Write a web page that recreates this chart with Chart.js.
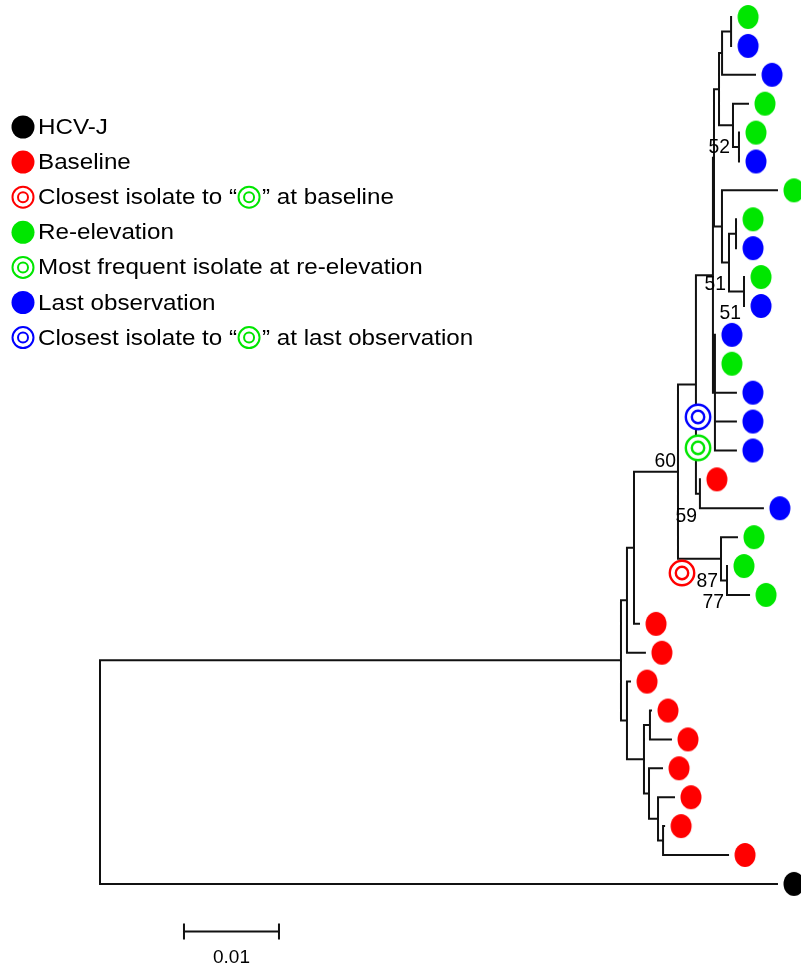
<!DOCTYPE html>
<html>
<head>
<meta charset="utf-8">
<script src="https://cdn.jsdelivr.net/npm/chart.js@4.4.1/dist/chart.umd.min.js"></script>
<style>
  html, body { margin: 0; padding: 0; background: #fff; }
  #wrap { width: 801px; height: 970px; }
</style>
</head>
<body>
<div id="wrap"><canvas id="tree" width="801" height="970"></canvas></div>
<script>
// tree (branch lengths in substitutions/site, internal labels = bootstrap)
const treeNewick =
  '(((((((((((E1:0,L1:0):0.00095,L2:0.00347):0.00032,(E2:0.00158,(E3:0,L3:0):0.00063)52:0.00147):0.00053,' +
  '(E4:0.00579,((E5:0,L4:0):0.00074,(E6:0,L5:0)51:0.00158)51:0.00074):0.00084):0.00011,' +
  '(L6:0,E7:0,L7:0.00221,L8:0.00221,L9:0.00221):0.00021):0.00179,' +
  '(B1:0,L10:0.00663)59:0.00042):0.00189,' +
  '(E8:0.00168,(E9:0,E10:0.00232)77:0.00063)87:0.00453)60:0.00463,' +
  'B2:0.00053):0.00074,B3:0.00189):0.00063,' +
  '(B4:0.00032,((B5:0.00011,B6:0.00221):0.00063,(B7:0.00137,(B8:0.00168,(B9:0.00011,B10:0.00684):0.00053):0.00095):0.00053):0.00179):0.00063):0.05484,' +
  'HCV-J:0.07126);';

const groupKeys = ['H', 'B', 'E', 'L'];
const groupNames = ['HCV-J', 'Baseline', 'Re-elevation', 'Last observation'];

// highlighted isolates (double rings) : group, distance, row
const ringGroups = ['L', 'E', 'B'];
const ringDist = [0.06295, 0.06295, 0.06126];
const ringRow = [13.84, 14.91, 19.24];

const legendLabels = [
  'HCV-J',
  'Baseline',
  'Closest isolate to “@” at baseline',
  'Re-elevation',
  'Most frequent isolate at re-elevation',
  'Last observation',
  'Closest isolate to “@” at last observation'
];
const legendGroups = ['H', 'B', 'B', 'E', 'E', 'L', 'L'];
const legendIsRing = [false, false, true, false, true, false, true];

const scaleBarLength = 0.01;

const colors = { H: '#000000', B: '#ff0000', E: '#00e600', L: '#0000ff' };

function parseNewick(s) {
  let i = 0;
  function node() {
    const n = { children: [], name: '', len: 0 };
    if (s[i] === '(') {
      i++;
      n.children.push(node());
      while (s[i] === ',') { i++; n.children.push(node()); }
      i++;
    }
    let name = '';
    while (i < s.length && !',():;'.includes(s[i])) name += s[i++];
    n.name = name;
    if (s[i] === ':') {
      i++;
      let num = '';
      while (i < s.length && !',();'.includes(s[i])) num += s[i++];
      n.len = parseFloat(num);
    }
    return n;
  }
  return node();
}

const root = parseNewick(treeNewick);
const leaves = [];
const inner = [];
let row = 0;
function layout(n, depth) {
  n.d = depth + n.len;
  if (!n.children.length) {
    n.y = row++;
    leaves.push(n);
  } else {
    n.children.forEach(c => layout(c, n.d));
    n.y = (n.children[0].y + n.children[n.children.length - 1].y) / 2;
    inner.push(n);
  }
}
root.len = 0;
layout(root, 0);

const segs = [];
function addSeg(x1, y1, x2, y2) {
  segs.push({ x: x1, y: y1 }, { x: x2, y: y2 }, { x: x2, y: null });
}
inner.forEach(n => {
  const first = n.children[0], last = n.children[n.children.length - 1];
  addSeg(n.d, first.y, n.d, last.y);
  n.children.forEach(c => addSeg(n.d, c.y, c.d, c.y));
});

function dotImage(color, rx, ry, offset) {
  const c = document.createElement('canvas');
  const half = Math.ceil(offset + rx + 2);
  c.width = half * 2;
  c.height = Math.ceil(ry * 2 + 4);
  const g = c.getContext('2d');
  g.fillStyle = color;
  g.beginPath();
  g.ellipse(half + offset, c.height / 2, rx, ry, 0, 0, Math.PI * 2);
  g.fill();
  return c;
}
function ringImage(color, r1, r2, lw) {
  const c = document.createElement('canvas');
  const s = Math.ceil(r1 + lw + 2) * 2;
  c.width = s; c.height = s;
  const g = c.getContext('2d');
  drawRing(g, s / 2, s / 2, color, r1, r2, lw);
  return c;
}
function drawRing(g, x, y, color, r1, r2, lw) {
  g.fillStyle = '#fff';
  g.beginPath(); g.arc(x, y, r1, 0, Math.PI * 2); g.fill();
  g.strokeStyle = color;
  g.lineWidth = lw;
  g.beginPath(); g.arc(x, y, r1, 0, Math.PI * 2); g.stroke();
  g.beginPath(); g.arc(x, y, r2, 0, Math.PI * 2); g.stroke();
}

const dotImgs = {};
groupKeys.forEach(k => { dotImgs[k] = dotImage(colors[k], 10.5, 12, 17); });
const ringImgs = {};
groupKeys.forEach(k => { ringImgs[k] = ringImage(colors[k], 12.2, 6.2, 2.4); });

const leafPoints = leaves.map(l => ({ x: l.d, y: l.y }));
const leafStyles = leaves.map(l => dotImgs[l.name[0]]);
const ringPoints = ringDist.map((d, i) => ({ x: d, y: ringRow[i] }));
const ringStyles = ringGroups.map(g => ringImgs[g]);

const textFont = '"Liberation Sans", Arial, sans-serif';

const treeExtras = {
  id: 'treeExtras',
  afterDraw(chart) {
    const ctx = chart.ctx;
    const xs = chart.scales.x, ys = chart.scales.y;
    ctx.save();

    // bootstrap values
    ctx.fillStyle = '#000';
    ctx.font = '21px ' + textFont;
    ctx.textAlign = 'right';
    ctx.textBaseline = 'middle';
    inner.forEach(n => {
      if (!n.name) return;
      const px = xs.getPixelForValue(n.d), py = ys.getPixelForValue(n.y);
      const ty = n.name === '60' ? py - 10 : py + 22;
      const tx = n.name === '60' ? px - 2 : px - 3;
      ctx.save();
      ctx.translate(tx, ty);
      ctx.scale(0.92, 1);
      ctx.fillText(n.name, 0, 0);
      ctx.restore();
    });

    // scale bar
    const x0 = xs.getPixelForValue(0.00884);
    const x1 = xs.getPixelForValue(0.00884 + scaleBarLength);
    const yb = 931.5;
    ctx.strokeStyle = '#111';
    ctx.lineWidth = 2;
    ctx.beginPath();
    ctx.moveTo(x0, yb); ctx.lineTo(x1, yb);
    ctx.moveTo(x0, yb - 8); ctx.lineTo(x0, yb + 8);
    ctx.moveTo(x1, yb - 8); ctx.lineTo(x1, yb + 8);
    ctx.stroke();
    ctx.textAlign = 'center';
    ctx.font = '19px ' + textFont;
    ctx.fillText(String(scaleBarLength), (x0 + x1) / 2, 958);

    // legend
    const sx = 1.1;
    ctx.font = '22px ' + textFont;
    ctx.textAlign = 'left';
    legendLabels.forEach((label, i) => {
      const y = 127 + i * 35.1;
      const c = colors[legendGroups[i]];
      if (legendIsRing[i]) {
        drawRing(ctx, 23, y, c, 10.5, 5, 2);
      } else {
        ctx.fillStyle = c;
        ctx.beginPath(); ctx.arc(23, y, 11.5, 0, Math.PI * 2); ctx.fill();
      }
      ctx.fillStyle = '#000';
      let x = 38;
      label.split('@').forEach((part, j) => {
        if (j > 0) {
          drawRing(ctx, x + 12, y, colors.E, 10.5, 5, 2);
          ctx.fillStyle = '#000';
          x += 25;
        }
        ctx.save();
        ctx.translate(x, y + 1);
        ctx.scale(sx, 1);
        ctx.fillText(part, 0, 0);
        ctx.restore();
        x += ctx.measureText(part).width * sx;
      });
    });
    ctx.restore();
  }
};

new Chart(document.getElementById('tree'), {
  type: 'scatter',
  data: {
    datasets: [
      {
        data: ringPoints,
        pointStyle: ringStyles,
        pointRadius: 5,
        order: 1,
        clip: false
      },
      {
        data: leafPoints,
        pointStyle: leafStyles,
        pointRadius: 5,
        order: 2,
        clip: false
      },
      {
        data: segs,
        showLine: true,
        spanGaps: false,
        borderColor: '#111',
        borderWidth: 2,
        borderCapStyle: 'square',
        pointRadius: 0,
        order: 3
      }
    ]
  },
  options: {
    responsive: false,
    animation: false,
    events: [],
    layout: { padding: 0, autoPadding: false },
    plugins: { legend: { display: false }, tooltip: { enabled: false } },
    scales: {
      x: { type: 'linear', display: false, min: -100 / 9500, max: 701 / 9500 },
      y: { type: 'linear', display: false, min: -0.588, max: 32.98, reverse: true }
    }
  },
  plugins: [treeExtras]
});
</script>
</body>
</html>
